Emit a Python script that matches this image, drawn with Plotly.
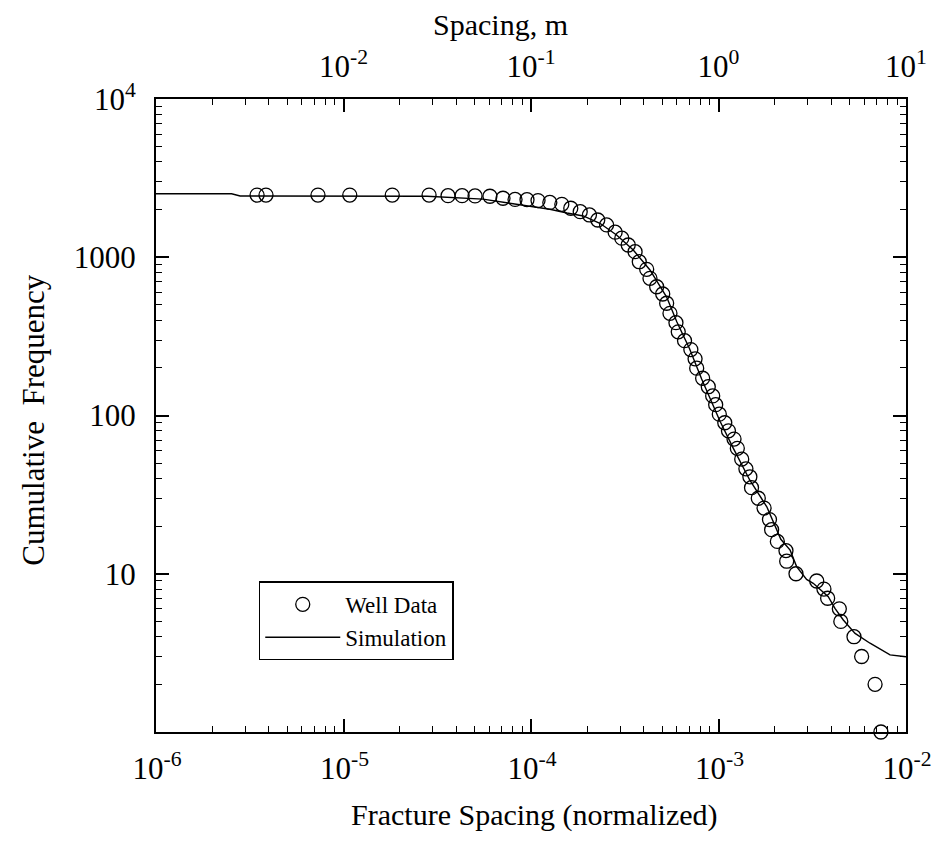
import plotly.graph_objects as go

# ---- data ----
well_x = [3.46e-6, 3.86e-6, 7.31e-6, 1.08e-5, 1.82e-5, 2.86e-5, 3.61e-5, 4.29e-5, 5.03e-5,
          6.04e-5, 7.09e-5, 8.22e-5, 9.52e-5, 1.09e-4, 1.26e-4, 1.46e-4, 1.63e-4, 1.83e-4,
          2.05e-4, 2.27e-4, 2.53e-4, 2.81e-4, 3.05e-4, 3.30e-4, 3.59e-4, 3.78e-4, 4.14e-4,
          4.31e-4, 4.68e-4, 5.04e-4, 5.29e-4, 5.51e-4, 5.93e-4, 6.10e-4, 6.59e-4, 7.12e-4,
          7.50e-4, 7.65e-4, 8.23e-4, 8.82e-4, 9.31e-4, 9.66e-4, 1.01e-3, 1.08e-3, 1.13e-3,
          1.21e-3, 1.26e-3, 1.33e-3, 1.40e-3, 1.47e-3, 1.50e-3, 1.63e-3, 1.75e-3, 1.87e-3,
          1.92e-3, 2.06e-3, 2.29e-3, 2.31e-3, 2.59e-3, 3.34e-3, 3.65e-3, 3.82e-3, 4.41e-3,
          4.49e-3, 5.28e-3, 5.80e-3, 6.84e-3, 7.35e-3]
well_y = [2470, 2470, 2470, 2470, 2470, 2470, 2450, 2450, 2440, 2430, 2360, 2320, 2310,
          2280, 2220, 2160, 2040, 1940, 1850, 1720, 1600, 1440, 1320, 1195, 1084, 937, 839,
          736, 651, 586, 512, 442, 386, 338, 297, 261, 228, 199, 172, 152, 133, 117, 102,
          90, 80, 71, 62, 53, 46, 41, 35, 30, 26, 22, 19, 16, 14, 12, 10, 9, 8, 7, 6, 5,
          4, 3, 2, 1]

sim_x = [1e-6, 2.53e-6, 2.81e-6, 2.79e-5, 5.54e-5, 8.41e-5, 1.26e-4, 1.556e-4, 1.90e-4,
         2.33e-4, 2.86e-4, 3.51e-4, 4.31e-4, 5.29e-4, 6.0e-4, 7.0e-4, 8.13e-4, 1.019e-3,
         1.20e-3, 1.47e-3, 1.81e-3, 2.15e-3, 2.41e-3, 2.61e-3, 2.95e-3, 3.20e-3, 3.85e-3,
         4.18e-3, 4.63e-3, 5.35e-3, 6.43e-3, 8.22e-3, 1e-2]
sim_y = [2520, 2520, 2440, 2430, 2330, 2160, 2010, 1905, 1823, 1639, 1382, 1111, 831,
         560, 390, 265, 170, 92, 62, 39, 26.5, 16.5, 14.1, 11.1, 9.2, 8.7, 7.16, 6.05,
         5.1, 4.2, 3.64, 3.07, 2.99]

bottom_ticks = [1e-6, 1e-5, 1e-4, 1e-3, 1e-2]
bottom_labels = ["10<sup>-6</sup>", "10<sup>-5</sup>", "10<sup>-4</sup>", "10<sup>-3</sup>", "10<sup>-2</sup>"]
top_ticks = [1e-3, 1e-2, 1e-1, 1, 10]
top_labels = ["", "10<sup>-2</sup>", "10<sup>-1</sup>", "10<sup>0</sup>", "10<sup>1</sup>"]
y_ticks = [1, 10, 100, 1000, 10000]
y_labels = ["", "10", "100", "1000", "10<sup>4</sup>"]


def minor_vals(d0, d1):
    return [k * 10.0 ** d for d in range(d0, d1) for k in range(2, 10)]


FONT = "Liberation Serif"
fig = go.Figure()

fig.add_trace(go.Scatter(
    x=well_x, y=well_y, mode="markers", name="Well Data",
    marker=dict(symbol="circle-open", size=14, color="black", line=dict(width=1.3, color="black")),
    cliponaxis=False))
fig.add_trace(go.Scatter(
    x=sim_x, y=sim_y, mode="lines", name="Simulation",
    line=dict(color="black", width=1.4)))
# invisible trace to activate top / right mirror axes
fig.add_trace(go.Scatter(x=[1e-3, 10], y=[1, 10000], xaxis="x2", yaxis="y2",
                         mode="markers", marker=dict(opacity=0), showlegend=False,
                         hoverinfo="skip"))

common = dict(showline=True, linecolor="black", linewidth=2, ticks="inside",
              ticklen=13, tickwidth=1.5, tickcolor="black", showgrid=False, zeroline=False,
              ticklabeloverflow="allow", automargin=False,
              tickfont=dict(family=FONT, size=31, color="black"))

fig.update_layout(
    width=935, height=851,
    margin=dict(l=156, r=29, t=99, b=119),
    paper_bgcolor="white", plot_bgcolor="white",
    xaxis=dict(type="log", range=[-6, -2], tickmode="array", tickvals=bottom_ticks,
               ticktext=bottom_labels, ticklabelstandoff=8, ticklabelshift=1,
               minor=dict(tickmode="array", tickvals=minor_vals(-6, -2), ticks="inside",
                          ticklen=6, tickwidth=1.2, tickcolor="black"),
               **common),
    xaxis2=dict(type="log", range=[-3, 1], overlaying="x", side="top", anchor="y",
                tickmode="array", tickvals=top_ticks, ticktext=top_labels,
                ticklabelstandoff=8, ticklabelshift=0,
                minor=dict(tickmode="array", tickvals=minor_vals(-3, 1), ticks="inside",
                           ticklen=6, tickwidth=1.2, tickcolor="black"),
                **common),
    yaxis=dict(type="log", range=[0, 4], tickmode="array", tickvals=y_ticks,
               ticktext=y_labels, ticklabelstandoff=12,
               minor=dict(tickmode="array", tickvals=minor_vals(0, 4), ticks="inside",
                          ticklen=6, tickwidth=1.2, tickcolor="black"),
               **common),
    yaxis2=dict(type="log", range=[0, 4], overlaying="y", side="right", anchor="x",
                tickmode="array", tickvals=y_ticks, showticklabels=False,
                minor=dict(tickmode="array", tickvals=minor_vals(0, 4), ticks="inside",
                           ticklen=6, tickwidth=1.2, tickcolor="black"),
                **common),
    showlegend=True,
    legend=dict(x=0.137, y=0.238, xanchor="left", yanchor="top",
                bordercolor="black", borderwidth=1.5, bgcolor="white",
                font=dict(family=FONT, size=23, color="black"),
                itemwidth=75, tracegroupgap=0),
    annotations=[
        dict(text="Fracture Spacing (normalized)", xref="paper", yref="paper",
             x=0.505, y=-0.131, xanchor="center", yanchor="middle", showarrow=False,
             font=dict(family=FONT, size=30, color="black")),
        dict(text="Spacing, m", xref="paper", yref="paper",
             x=0.459, y=1.117, xanchor="center", yanchor="middle", showarrow=False,
             font=dict(family=FONT, size=30, color="black")),
        dict(text="Cumulative  Frequency", xref="paper", yref="paper",
             x=-0.163, y=0.493, xanchor="center", yanchor="middle", showarrow=False,
             textangle=-90, font=dict(family=FONT, size=31, color="black")),
    ],
)

fig.write_html("out.html")
